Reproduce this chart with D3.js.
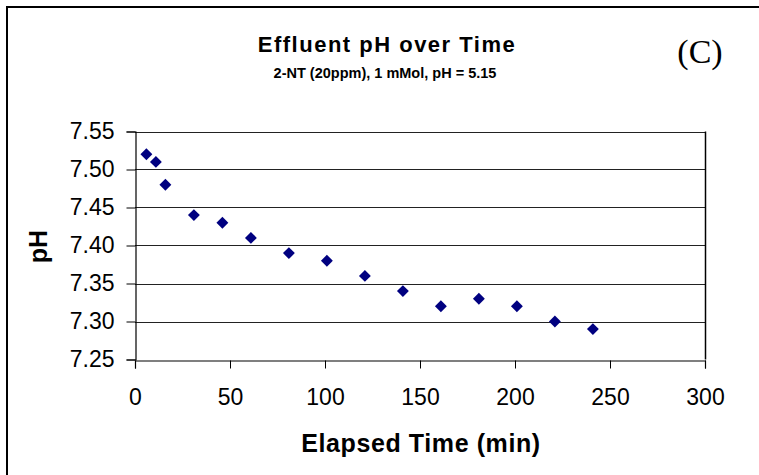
<!DOCTYPE html>
<html><head><meta charset="utf-8">
<script src="https://cdn.jsdelivr.net/npm/d3@7"></script>
<style>body{margin:0;background:#fff}svg{display:block}text{font-family:"Liberation Sans",Arial,sans-serif}</style>
</head><body>
<svg id="c" width="759" height="475"></svg>
<script>
const times = [6, 11, 16, 31, 46, 61, 81, 101, 121, 141, 161, 181, 201, 221, 241];
const phValues = [7.52, 7.51, 7.48, 7.44, 7.43, 7.41, 7.39, 7.38, 7.36, 7.34, 7.32, 7.33, 7.32, 7.30, 7.29];
const xTicks = [0, 50, 100, 150, 200, 250, 300];
const yTicks = [7.25, 7.30, 7.35, 7.40, 7.45, 7.50, 7.55];
const titleText = "Effluent pH over Time";
const subtitleText = "2-NT (20ppm), 1 mMol, pH = 5.15";
const panelLabel = "(C)";
const xLabel = "Elapsed Time (min)";
const yLabel = "pH";

const svg = d3.select("#c");
const L = 135, R = 705, T = 131.5, B = 359.5;
const x = d3.scaleLinear().domain([0, 300]).range([L, R]);
const y = d3.scaleLinear().domain([7.25, 7.55]).range([B, T]);

// outer border
svg.append("path").attr("d", "M7,480 V7 H770").attr("fill", "none").attr("stroke", "#000").attr("stroke-width", 2);

// gridlines
svg.append("g").selectAll("line").data(yTicks.slice(1)).join("line")
  .attr("x1", L).attr("x2", R)
  .attr("y1", d => Math.round(y(d)) + 0.5).attr("y2", d => Math.round(y(d)) + 0.5)
  .attr("stroke", "#222").attr("stroke-width", 1);
// right border
svg.append("line").attr("x1", R + 0.5).attr("x2", R + 0.5).attr("y1", T).attr("y2", B)
  .attr("stroke", "#000").attr("stroke-width", 1.5);

// axes
const fmtY = d3.format(".2f");
const yAxis = svg.append("g").attr("transform", `translate(${L + 0.5},0)`)
  .call(d3.axisLeft(y).tickValues(yTicks).tickFormat(fmtY).tickSize(9).tickPadding(12));
const xAxis = svg.append("g").attr("transform", `translate(0,${Math.round(B) + 0.5})`)
  .call(d3.axisBottom(x).tickValues(xTicks).tickFormat(d3.format("d")).tickSize(8).tickPadding(20));
[yAxis, xAxis].forEach(g => {
  g.select(".domain").attr("stroke", "#000").attr("stroke-width", 1.2);
  g.selectAll(".tick line").attr("stroke", "#000");
  g.selectAll("text").attr("font-family", "Liberation Sans, Arial, sans-serif")
    .attr("font-size", 23).attr("fill", "#000");
});

// points (diamonds)
const sym = d3.symbol().type(d3.symbolDiamond2).size(90);
svg.append("g").selectAll("path").data(times.map((t, i) => [t, phValues[i]])).join("path")
  .attr("d", sym)
  .attr("transform", d => `translate(${x(d[0])},${y(d[1])})`)
  .attr("fill", "#000080");

// titles
svg.append("text").attr("x", 387).attr("y", 52).attr("text-anchor", "middle")
  .attr("font-weight", "bold").attr("font-size", 22).attr("letter-spacing", 1.5).text(titleText);
svg.append("text").attr("x", 385).attr("y", 78).attr("text-anchor", "middle")
  .attr("font-weight", "bold").attr("font-size", 14.5).text(subtitleText);
svg.append("text").attr("x", 700).attr("y", 63).attr("text-anchor", "middle")
  .style("font-family", "Liberation Serif, Times New Roman, serif").attr("font-size", 34).text(panelLabel);
svg.append("text").attr("x", (L + R) / 2 + 1).attr("y", 452).attr("text-anchor", "middle")
  .attr("font-weight", "bold").attr("font-size", 25).attr("letter-spacing", 0.6).text(xLabel);
svg.append("text").attr("transform", `translate(47,${(T + B) / 2 + 1}) rotate(-90)`).attr("text-anchor", "middle")
  .attr("font-weight", "bold").attr("font-size", 25).text(yLabel);
</script>
</body></html>
